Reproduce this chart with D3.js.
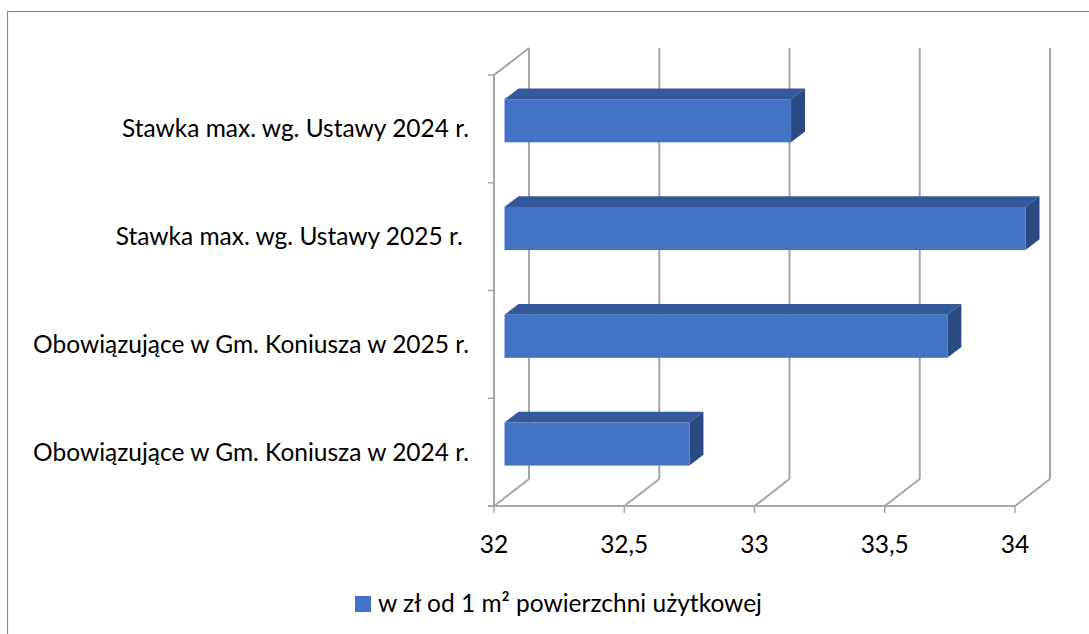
<!DOCTYPE html>
<html>
<head>
<meta charset="utf-8">
<script src="https://cdn.jsdelivr.net/npm/d3@7"></script>
<style>
  html, body { margin: 0; padding: 0; background: #fff; }
  svg { display: block; }
  text { font-family: Lato, "Noto Sans", sans-serif; fill: #000; }
</style>
</head>
<body>
<div id="root"></div>
<script>
// chart data, top to bottom as in the picture
const categories = [
  "Stawka max. wg. Ustawy 2024 r.",
  "Stawka max. wg. Ustawy 2025 r. ",
  "Obowiązujące w Gm. Koniusza w 2025 r.",
  "Obowiązujące w Gm. Koniusza w 2024 r."
];
const values = [33.10, 34.00, 33.70, 32.71];
const tickValues = [32, 32.5, 33, 33.5, 34];
const seriesName = "w zł od 1 m² powierzchni użytkowej";

function createChart() {
  const width = 1089;
  const height = 634;
  const fontSize = 24.5;

  // 3d depth offset of the back wall
  const depthX = 35;
  const depthY = -27;
  const z0 = 0.3, z1 = 0.7; // bar depth (gap depth 150%)

  const xScale = d3.scaleLinear()
    .domain([32, 34])
    .range([494, 1015]);

  const yScale = d3.scaleBand()
    .domain(categories)
    .range([75, 506])
    .paddingInner(0.6)
    .paddingOuter(0.3);

  const floorY = 506, topY = 75;
  const gridColor = "#a6a6a6";

  const svg = d3.select("#root")
    .append("svg")
    .attr("width", width)
    .attr("height", height);

  // chart area border
  svg.append("rect")
    .attr("x", 7.5)
    .attr("y", 11.5)
    .attr("width", width + 20)
    .attr("height", height + 20)
    .attr("fill", "none")
    .attr("stroke", "#8c8c8c")
    .attr("stroke-width", 1.2);

  // back wall gridlines
  svg.selectAll(".grid")
    .data(tickValues)
    .enter()
    .append("line")
    .attr("class", "grid")
    .attr("x1", d => xScale(d) + depthX)
    .attr("x2", d => xScale(d) + depthX)
    .attr("y1", topY + depthY)
    .attr("y2", floorY + depthY)
    .attr("stroke", gridColor)
    .attr("stroke-width", 2);

  // floor lines
  svg.selectAll(".floor")
    .data(tickValues)
    .enter()
    .append("line")
    .attr("class", "floor")
    .attr("x1", d => xScale(d))
    .attr("x2", d => xScale(d) + depthX)
    .attr("y1", floorY)
    .attr("y2", floorY + depthY)
    .attr("stroke", gridColor)
    .attr("stroke-width", 2);

  // left wall edges
  svg.append("path")
    .attr("d", `M${xScale(32)},${floorY}L${xScale(32)},${topY}L${xScale(32) + depthX},${topY + depthY}`)
    .attr("fill", "none")
    .attr("stroke", gridColor)
    .attr("stroke-width", 2);

  // value axis line + ticks
  svg.append("line")
    .attr("x1", xScale(32) - 6)
    .attr("x2", xScale(34))
    .attr("y1", floorY)
    .attr("y2", floorY)
    .attr("stroke", gridColor)
    .attr("stroke-width", 2);

  svg.selectAll(".xtick")
    .data(tickValues)
    .enter()
    .append("line")
    .attr("x1", d => xScale(d))
    .attr("x2", d => xScale(d))
    .attr("y1", floorY)
    .attr("y2", floorY + 7)
    .attr("stroke", gridColor)
    .attr("stroke-width", 1.5);

  svg.selectAll(".xlabel")
    .data(tickValues)
    .enter()
    .append("text")
    .attr("x", d => xScale(d))
    .attr("y", 553)
    .attr("text-anchor", "middle")
    .style("font-size", fontSize + "px")
    .text(d => String(d).replace(".", ","));

  // category ticks
  const catTicks = categories.map(c => yScale(c) - yScale.step() * 0.3).concat([floorY]);
  svg.selectAll(".ytick")
    .data(catTicks)
    .enter()
    .append("line")
    .attr("x1", xScale(32) - 6)
    .attr("x2", xScale(32))
    .attr("y1", d => d)
    .attr("y2", d => d)
    .attr("stroke", gridColor)
    .attr("stroke-width", 1.5);

  svg.selectAll(".ylabel")
    .data(categories)
    .enter()
    .append("text")
    .attr("x", xScale(32) - 25)
    .attr("y", d => yScale(d) + yScale.bandwidth() / 2)
    .attr("dy", "0.35em")
    .attr("text-anchor", "end")
    .attr("xml:space", "preserve")
    .style("white-space", "pre")
    .style("font-size", fontSize + "px")
    .text(d => d);

  // bars
  const bars = svg.selectAll(".bar")
    .data(values)
    .enter()
    .append("g")
    .attr("class", "bar");

  const bx0 = () => xScale(32) + z0 * depthX;
  const bx1 = d => xScale(d) + z0 * depthX;
  const by0 = (d, i) => yScale(categories[i]) + z0 * depthY;
  const bh = yScale.bandwidth();
  const ddx = (z1 - z0) * depthX;
  const ddy = (z1 - z0) * depthY;

  // top face
  bars.append("path")
    .attr("d", (d, i) => {
      const x0 = bx0(), x1 = bx1(d), y = by0(d, i);
      return `M${x0},${y}L${x1},${y}L${x1 + ddx},${y + ddy}L${x0 + ddx},${y + ddy}Z`;
    })
    .attr("fill", "#34599b");

  // side face
  bars.append("path")
    .attr("d", (d, i) => {
      const x1 = bx1(d), y = by0(d, i);
      return `M${x1},${y}L${x1 + ddx},${y + ddy}L${x1 + ddx},${y + ddy + bh}L${x1},${y + bh}Z`;
    })
    .attr("fill", "#2a4a82");

  // front face
  bars.append("rect")
    .attr("x", bx0())
    .attr("y", (d, i) => by0(d, i))
    .attr("width", d => bx1(d) - bx0())
    .attr("height", bh)
    .attr("fill", "#4472c4");

  // legend
  const legend = svg.append("g")
    .attr("transform", "translate(355, 596)");

  legend.append("rect")
    .attr("width", 16)
    .attr("height", 16)
    .attr("fill", "#4472c4");

  legend.append("text")
    .attr("x", 23)
    .attr("y", 16)
    .style("font-size", fontSize + "px")
    .text(seriesName);
}

createChart();
</script>
</body>
</html>
